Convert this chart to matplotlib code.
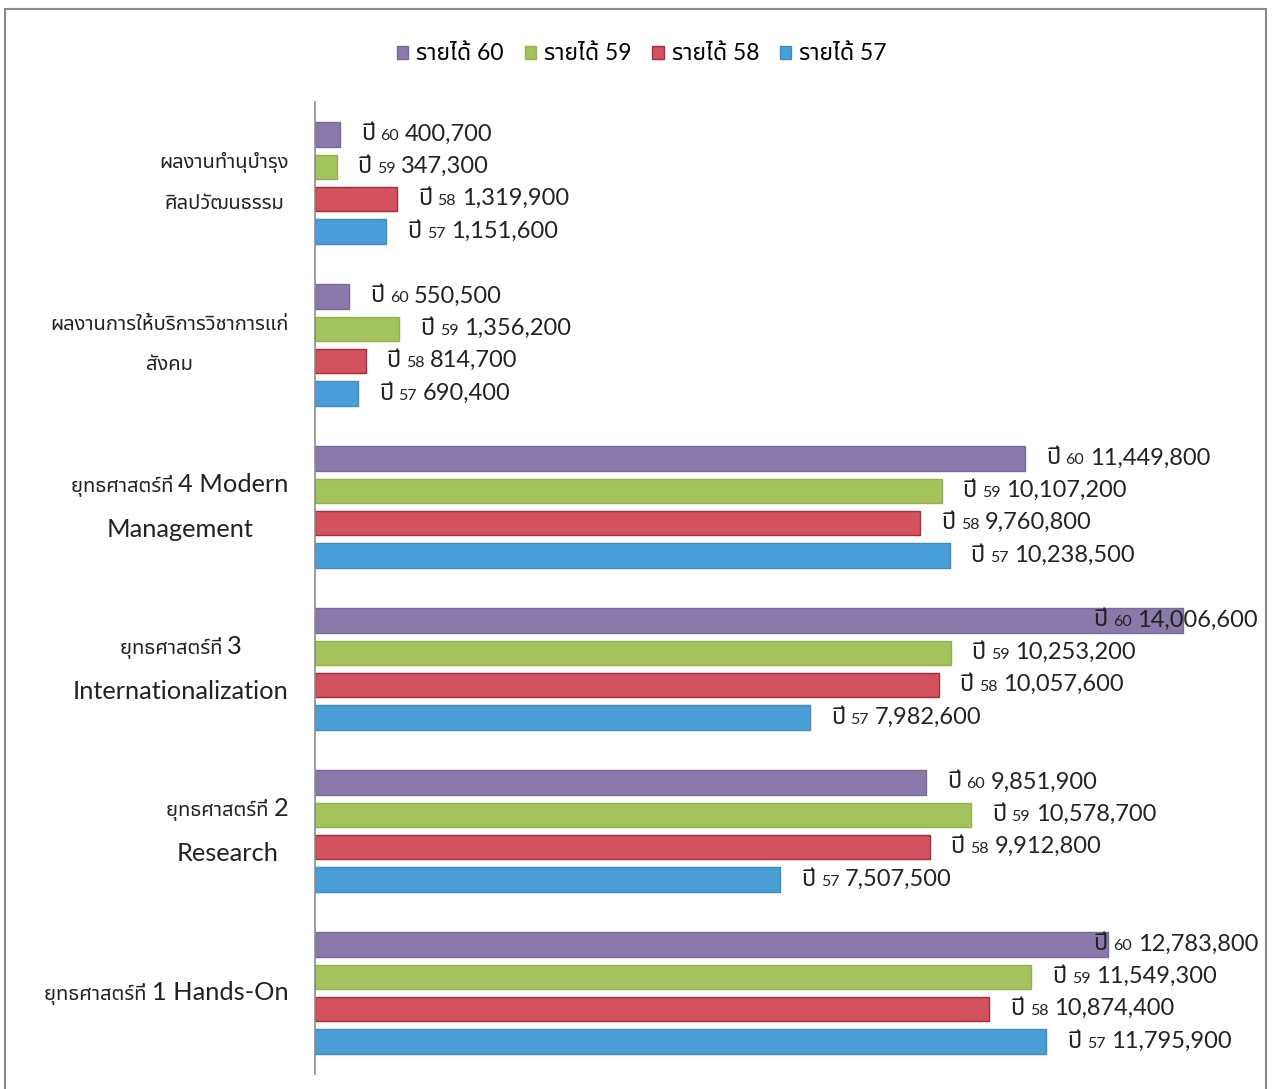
import matplotlib
matplotlib.use("Agg")
import matplotlib.pyplot as plt
import matplotlib.patches as mpatches
from matplotlib.offsetbox import TextArea, HPacker, VPacker, AnnotationBbox

plt.rcParams['font.family'] = ['Lato', 'Noto Sans Thai', 'DejaVu Sans']

# หมวดรายได้ เรียงจากบนลงล่าง
categories = [
    'ผลงานทำนุบำรุง\nศิลปวัฒนธรรม',
    'ผลงานการให้บริการวิชาการแก่\nสังคม',
    'ยุทธศาสตร์ที่ 4 Modern\nManagement',
    'ยุทธศาสตร์ที่ 3\nInternationalization',
    'ยุทธศาสตร์ที่ 2\nResearch',
    'ยุทธศาสตร์ที่ 1 Hands-On',
]
years = ['60', '59', '58', '57']
income_60 = [400700, 550500, 11449800, 14006600, 9851900, 12783800]
income_59 = [347300, 1356200, 10107200, 10253200, 10578700, 11549300]
income_58 = [1319900, 814700, 9760800, 10057600, 9912800, 10874400]
income_57 = [1151600, 690400, 10238500, 7982600, 7507500, 11795900]
series = [income_60, income_59, income_58, income_57]

colors = ['#8a7aab', '#a4c35c', '#d2535d', '#4a9fd8']
edges = ['#7a6a9b', '#93b24c', '#a82a3c', '#3f8cc4']
ink = '#222222'
THAI = ['Noto Sans Thai', 'DejaVu Sans']
LATIN = ['Lato', 'DejaVu Sans']


def is_thai(ch):
    return '\u0e00' <= ch <= '\u0e7f'


def split_runs(line):
    # แยกข้อความเป็นช่วงอักษรไทย / อักษรอื่น
    runs = []
    for ch in line:
        kind = is_thai(ch) if ch != ' ' else (runs[-1][0] if runs else False)
        if runs and runs[-1][0] == kind:
            runs[-1][1] += ch
        else:
            runs.append([kind, ch])
    return runs


def text_box(parts, sep=0):
    kids = [TextArea(t, textprops=dict(fontsize=s, family=f, color=ink))
            for t, s, f in parts]
    return HPacker(children=kids, sep=sep, align='baseline', pad=0)


def category_box(label, thai_size=14.5, latin_size=18.3):
    lines = []
    for line in label.split('\n'):
        parts = [(t, thai_size if k else latin_size, THAI if k else LATIN)
                 for k, t in split_runs(line)]
        lines.append(text_box(parts))
    return VPacker(children=lines, sep=15, align='center', pad=0)


def value_box(yr, v):
    return text_box([('ปี', 17, THAI), (yr, 11.5, LATIN),
                     (f'{v:,}', 17, LATIN)], sep=4)


W, H = 1276, 1089
fig = plt.figure(figsize=(W / 100, H / 100), dpi=100)
ax = fig.add_axes([315 / W, 1 - 1074 / H, (1258 - 315) / W, 972 / H])

xmax = 15.21e6
bar_h = 0.15
offsets = [-0.3, -0.1, 0.1, 0.3]

labels = []
for vals, yr, c, ec, off in zip(series, years, colors, edges, offsets):
    ys = [i + off for i in range(len(categories))]
    ax.barh(ys, vals, height=bar_h, color=c, edgecolor=ec, linewidth=1.0,
            label='รายได้ ' + yr)
    for y, v in zip(ys, vals):
        ab = AnnotationBbox(value_box(yr, v), (v, y), xycoords='data',
                            xybox=(15, 0), boxcoords='offset points',
                            box_alignment=(0, 0.5), frameon=False, pad=0)
        ax.add_artist(ab)
        labels.append((ab, yr, v, y))

ax.set_xlim(0, xmax)
ax.set_ylim(len(categories) - 0.5, -0.5)
ax.set_xticks([])
ax.set_yticks(range(len(categories)))
ax.set_yticklabels([])
ax.tick_params(axis='y', length=0)
for s in ['top', 'right', 'bottom']:
    ax.spines[s].set_visible(False)
ax.spines['left'].set_color('#8c8c8c')
ax.spines['left'].set_linewidth(1.2)
ax.patch.set_alpha(0)

# ชื่อหมวดทางซ้ายของแกน: ชิดขวา แต่ละบรรทัดจัดกึ่งกลาง
for i, cat in enumerate(categories):
    ax.add_artist(AnnotationBbox(category_box(cat), (0, i),
                                 xycoords=('axes fraction', 'data'),
                                 xybox=(-19, 0), boxcoords='offset points',
                                 box_alignment=(1, 0.5), frameon=False,
                                 pad=0, annotation_clip=False))

# ป้ายที่ล้นขอบขวา ให้ชิดขอบขวาแทน
fig.canvas.draw()
r = fig.canvas.get_renderer()
limit = 1260
for ab, yr, v, y in labels:
    if ab.get_window_extent(r).x1 > limit:
        ab.remove()
        ax.add_artist(AnnotationBbox(value_box(yr, v), (xmax, y),
                                     xycoords='data', xybox=(0, 0),
                                     boxcoords='offset points',
                                     box_alignment=(1, 0.5), frameon=False,
                                     pad=0))

fig.legend(loc='center', bbox_to_anchor=(0.503, 1 - 54 / H), ncol=4,
           frameon=False, fontsize=16.5, handlelength=0.5, handleheight=0.5,
           handletextpad=0.35, columnspacing=0.9)

frame = mpatches.Rectangle((5 / W, -0.02), (1266 - 5) / W, 1.02 - 9 / H,
                           transform=fig.transFigure, fill=False,
                           edgecolor='#8a8a8a', linewidth=1.5)
fig.patches.append(frame)

fig.savefig('out.png', dpi=100)
